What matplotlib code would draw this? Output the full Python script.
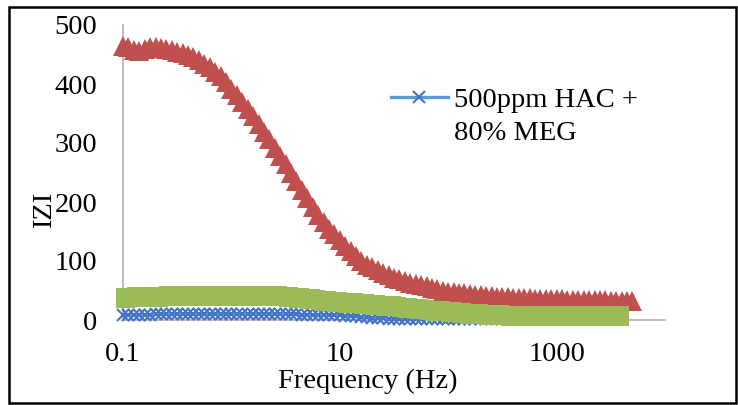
import numpy as np
import matplotlib
matplotlib.use("Agg")
import matplotlib.pyplot as plt
from matplotlib.patches import Rectangle

plt.rcParams['font.family'] = ['Liberation Serif', 'DejaVu Serif']

# Frequency sweep: 20 points per decade from 0.1 Hz to ~5 kHz
freq = np.logspace(-1, 3.7, 95)

# |Z| of the sample shown in the legend
z_blue = [9, 9, 9, 9, 9, 9, 9.5, 9.5, 9.5, 9.5, 10, 10, 10, 10, 10, 10, 10, 10, 10, 10,
          10, 10, 10, 10, 10, 10, 10, 10, 10, 10, 10, 9.5, 9.5, 9, 9, 9, 8.5, 8.5, 8, 8,
          8, 7.5, 7, 6, 5.5, 5, 4, 3.5, 3, 2.5, 2, 2, 1.5, 1.5, 1, 1, 1, 1, 1, 1,
          1, 1, 1, 1, 1, 1, 1, 1, 1, 1, 1, 1, 1, 1, 1, 1, 1, 1, 1, 1,
          1, 1, 1, 1, 1, 1, 1, 1, 1, 1, 1, 1, 1, 1, 1]

z_red = [465, 462, 458, 456, 460, 463, 462, 461, 459, 457, 455, 452, 449, 445, 440, 434, 428, 421, 413, 403,
         392, 381, 369, 357, 345, 332, 319, 306, 292, 278, 264, 249, 235, 220, 206, 192, 178, 166, 155, 145,
         135, 126, 117, 108, 100, 94, 89, 84, 80, 76, 72, 69, 66, 63, 61, 59, 57, 55, 52, 50,
         48, 47, 46, 45, 44, 43, 42, 41, 40, 39.5, 39, 38.5, 38, 37.5, 37, 36.5, 36, 36, 35.5, 35.5,
         35, 35, 34.5, 34.5, 34.5, 34, 34, 34, 33.5, 33.5, 33, 33, 32.5, 32.5, 32]

z_green = [38, 38, 38.5, 38.5, 39, 39, 39.5, 39.5, 40, 40, 40, 40, 40.5, 40.5, 40.5, 41, 41, 41, 41, 41,
           41, 41, 41, 41, 41, 41, 41, 41, 40.5, 40, 39.5, 39, 38, 37, 36, 35, 34, 33, 32, 31,
           30, 29.5, 29, 28, 27.5, 27, 26, 25, 24, 23, 23, 22, 21, 20, 19, 18, 17, 16, 15.5, 15,
           14, 13, 12, 11.5, 11, 10, 9.5, 9, 8.5, 8, 8, 7.5, 7.5, 7.5, 7, 7, 7, 7, 7, 7,
           7, 7, 7, 7, 7, 7, 7, 7, 7, 7, 7, 7, 7, 7, 7]

legend_lines = ["500ppm HAC +", "80% MEG"]
xtick_vals = [0.1, 10, 1000]
xtick_labels = ["0.1", "10", "1000"]
ytick_vals = [0, 100, 200, 300, 400, 500]

BLUE_LINE = "#5B9BD5"
BLUE_MARK = "#4472C4"
RED = "#C0504D"
GREEN = "#9BBB59"
FS = 20.5

fig = plt.figure(figsize=(7.38, 4.05), dpi=100)
ax = fig.add_axes([123/738, (405-320)/405, (665-123)/738, 295/405])

rect_marker = [(-0.67, -1), (0.67, -1), (0.67, 1), (-0.67, 1), (-0.67, -1)]

ax.plot(freq[:-3], z_blue[:-3], color=BLUE_LINE, lw=2.4, marker='x', ms=9, mew=1.5,
        mec=BLUE_MARK, label=legend_lines[0], zorder=3, clip_on=False)
ax.plot(freq, z_red, color=RED, lw=1.5, marker='^', ms=14, mec=RED, mew=0,
        zorder=4, clip_on=False)
ax.plot(freq[:-2], z_green[:-2], color=GREEN, lw=1.5, marker=rect_marker, ms=15,
        mec=GREEN, mew=0, zorder=5, clip_on=False)

ax.set_xscale('log')
ax.set_xlim(0.1, 10000)
ax.set_ylim(0, 500)
ax.set_xticks(xtick_vals)
ax.set_xticklabels(xtick_labels)
ax.xaxis.set_minor_locator(matplotlib.ticker.NullLocator())
ax.set_yticks(ytick_vals)
ax.tick_params(axis='both', length=0, labelsize=FS, colors='black')
ax.tick_params(axis='y', pad=18.5)
ax.tick_params(axis='x', pad=16)
for s in ['top', 'right']:
    ax.spines[s].set_visible(False)
for s in ['left', 'bottom']:
    ax.spines[s].set_color('#BFBFBF')
    ax.spines[s].set_linewidth(1.5)
for s in ax.spines.values():
    s.set_zorder(1)

leg = ax.legend(loc='center left', bbox_to_anchor=((391-123)/542, (320-100)/295),
                frameon=False, fontsize=FS, handlelength=2.0, handletextpad=0.2,
                borderaxespad=0, borderpad=0)

fig.canvas.draw()
bb = leg.get_texts()[0].get_window_extent()
fig.text(bb.x0 / fig.bbox.width, (bb.y0 - 33) / fig.bbox.height, legend_lines[1],
         ha='left', va='bottom', fontsize=FS)

fig.text(45/738, 1-210/405, "IZI", rotation=90, ha='center', va='center', fontsize=FS)
fig.text(368/738, 1-381/405, "Frequency (Hz)", ha='center', va='center', fontsize=FS)

fig.patches.append(Rectangle((9/738, 1-403/405), (736-9)/738, (403-7)/405,
                             transform=fig.transFigure, fill=False, ec='black', lw=1.8))

fig.savefig("out.png", dpi=100)
